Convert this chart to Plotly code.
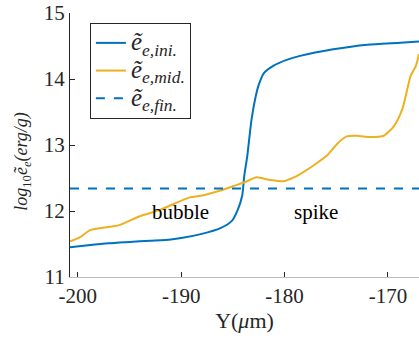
import plotly.graph_objects as go

ini_x = [-200.75, -199, -197, -195, -193, -191, -190, -188.1, -186.2, -185.1, -184.5, -184.1,
         -183.9, -183.6, -183.2, -182.8, -182.5, -182.0, -181.1, -179.8, -178.5, -175.3,
         -172.0, -168.8, -167.0]
ini_y = [11.45, 11.48, 11.51, 11.53, 11.55, 11.57, 11.59, 11.65, 11.74, 11.85, 12.03, 12.23,
         12.53, 12.84, 13.38, 13.73, 13.91, 14.09, 14.20, 14.29, 14.35, 14.45,
         14.52, 14.55, 14.57]

mid_x = [-200.75, -199.8, -198.8, -196.9, -195.9, -194.0, -192.0, -190.1, -189.1, -188.1,
         -186.2, -184.9, -183.8, -182.7, -181.4, -180.1, -179.1, -178.5, -177.2, -175.9,
         -174.9, -174.0, -173.0, -171.7, -170.4, -169.4, -168.6, -167.8, -167.3, -167.0]
mid_y = [11.54, 11.60, 11.71, 11.76, 11.79, 11.92, 12.02, 12.15, 12.21, 12.23,
         12.31, 12.38, 12.44, 12.51, 12.47, 12.45, 12.51, 12.56, 12.69, 12.84,
         13.02, 13.13, 13.14, 13.12, 13.14, 13.29, 13.55, 14.05, 14.20, 14.38]

fin_x = [-200.75, -167.0]
fin_y = [12.34, 12.34]

x_ticks = [-200, -190, -180, -170]
y_ticks = [11, 12, 13, 14, 15]

legend_names = ["ini.", "mid.", "fin."]
labels = [("bubble", -190.1, 11.98), ("spike", -177.0, 11.98)]

FONT = "Liberation Serif"
INK = "#262626"


def leg(sfx):
    return ("<span style='font-size:25px'><i>ẽ</i><sub><i>e," + sfx + "</i></sub></span>")


fig = go.Figure()
fig.add_trace(go.Scatter(x=ini_x, y=ini_y, mode="lines",
                         line=dict(color="#0072BD", width=2, shape="spline", smoothing=0.6),
                         name=leg(legend_names[0])))
fig.add_trace(go.Scatter(x=mid_x, y=mid_y, mode="lines",
                         line=dict(color="#EDB120", width=2, shape="spline", smoothing=0.6),
                         name=leg(legend_names[1])))
fig.add_trace(go.Scatter(x=fin_x, y=fin_y, mode="lines",
                         line=dict(color="#0072BD", width=2, dash="dash"),
                         name=leg(legend_names[2])))

for t, x, y in labels:
    fig.add_annotation(x=x, y=y, text=t, showarrow=False, font=dict(family=FONT, size=21, color="black"))

# y-axis title placed as rotated annotation for precise positioning
fig.add_annotation(xref="paper", yref="paper", x=-0.135, y=0.245, xanchor="center", yanchor="bottom",
                   textangle=-90, showarrow=False,
                   text="<i>log</i><sub>10</sub><i>ẽ</i><sub><i>e</i></sub><i>(erg/g)</i>",
                   font=dict(family=FONT, size=18, color=INK))

fig.update_layout(
    width=419, height=341,
    margin=dict(l=70, r=0, t=13, b=64),
    paper_bgcolor="white", plot_bgcolor="white",
    font=dict(family=FONT, size=20, color=INK),
    showlegend=True,
    legend=dict(x=0.057, y=0.962, xanchor="left", yanchor="top",
                bordercolor=INK, borderwidth=1, bgcolor="white",
                font=dict(family=FONT, size=19, color=INK),
                tracegroupgap=0, itemwidth=30),
    xaxis=dict(range=[-200.75, -167.0], tickvals=x_ticks, ticktext=[str(v) for v in x_ticks],
               showgrid=False, zeroline=False, showline=True, linecolor="#bdbdbd", linewidth=1,
               ticks="inside", ticklen=5, tickcolor=INK,
               tickfont=dict(family=FONT, size=21),
               title=dict(text="Y(<i>μ</i>m)", font=dict(family=FONT, size=22), standoff=4)),
    yaxis=dict(range=[11, 15], tickvals=y_ticks, ticktext=[str(v) for v in y_ticks],
               showgrid=False, zeroline=False, showline=True, linecolor=INK, linewidth=1,
               ticks="inside", ticklen=5, tickcolor=INK,
               tickfont=dict(family=FONT, size=21)),
)

fig.write_html("out.html", post_script="document.body.style.margin='0';",
               config={"displayModeBar": False})
